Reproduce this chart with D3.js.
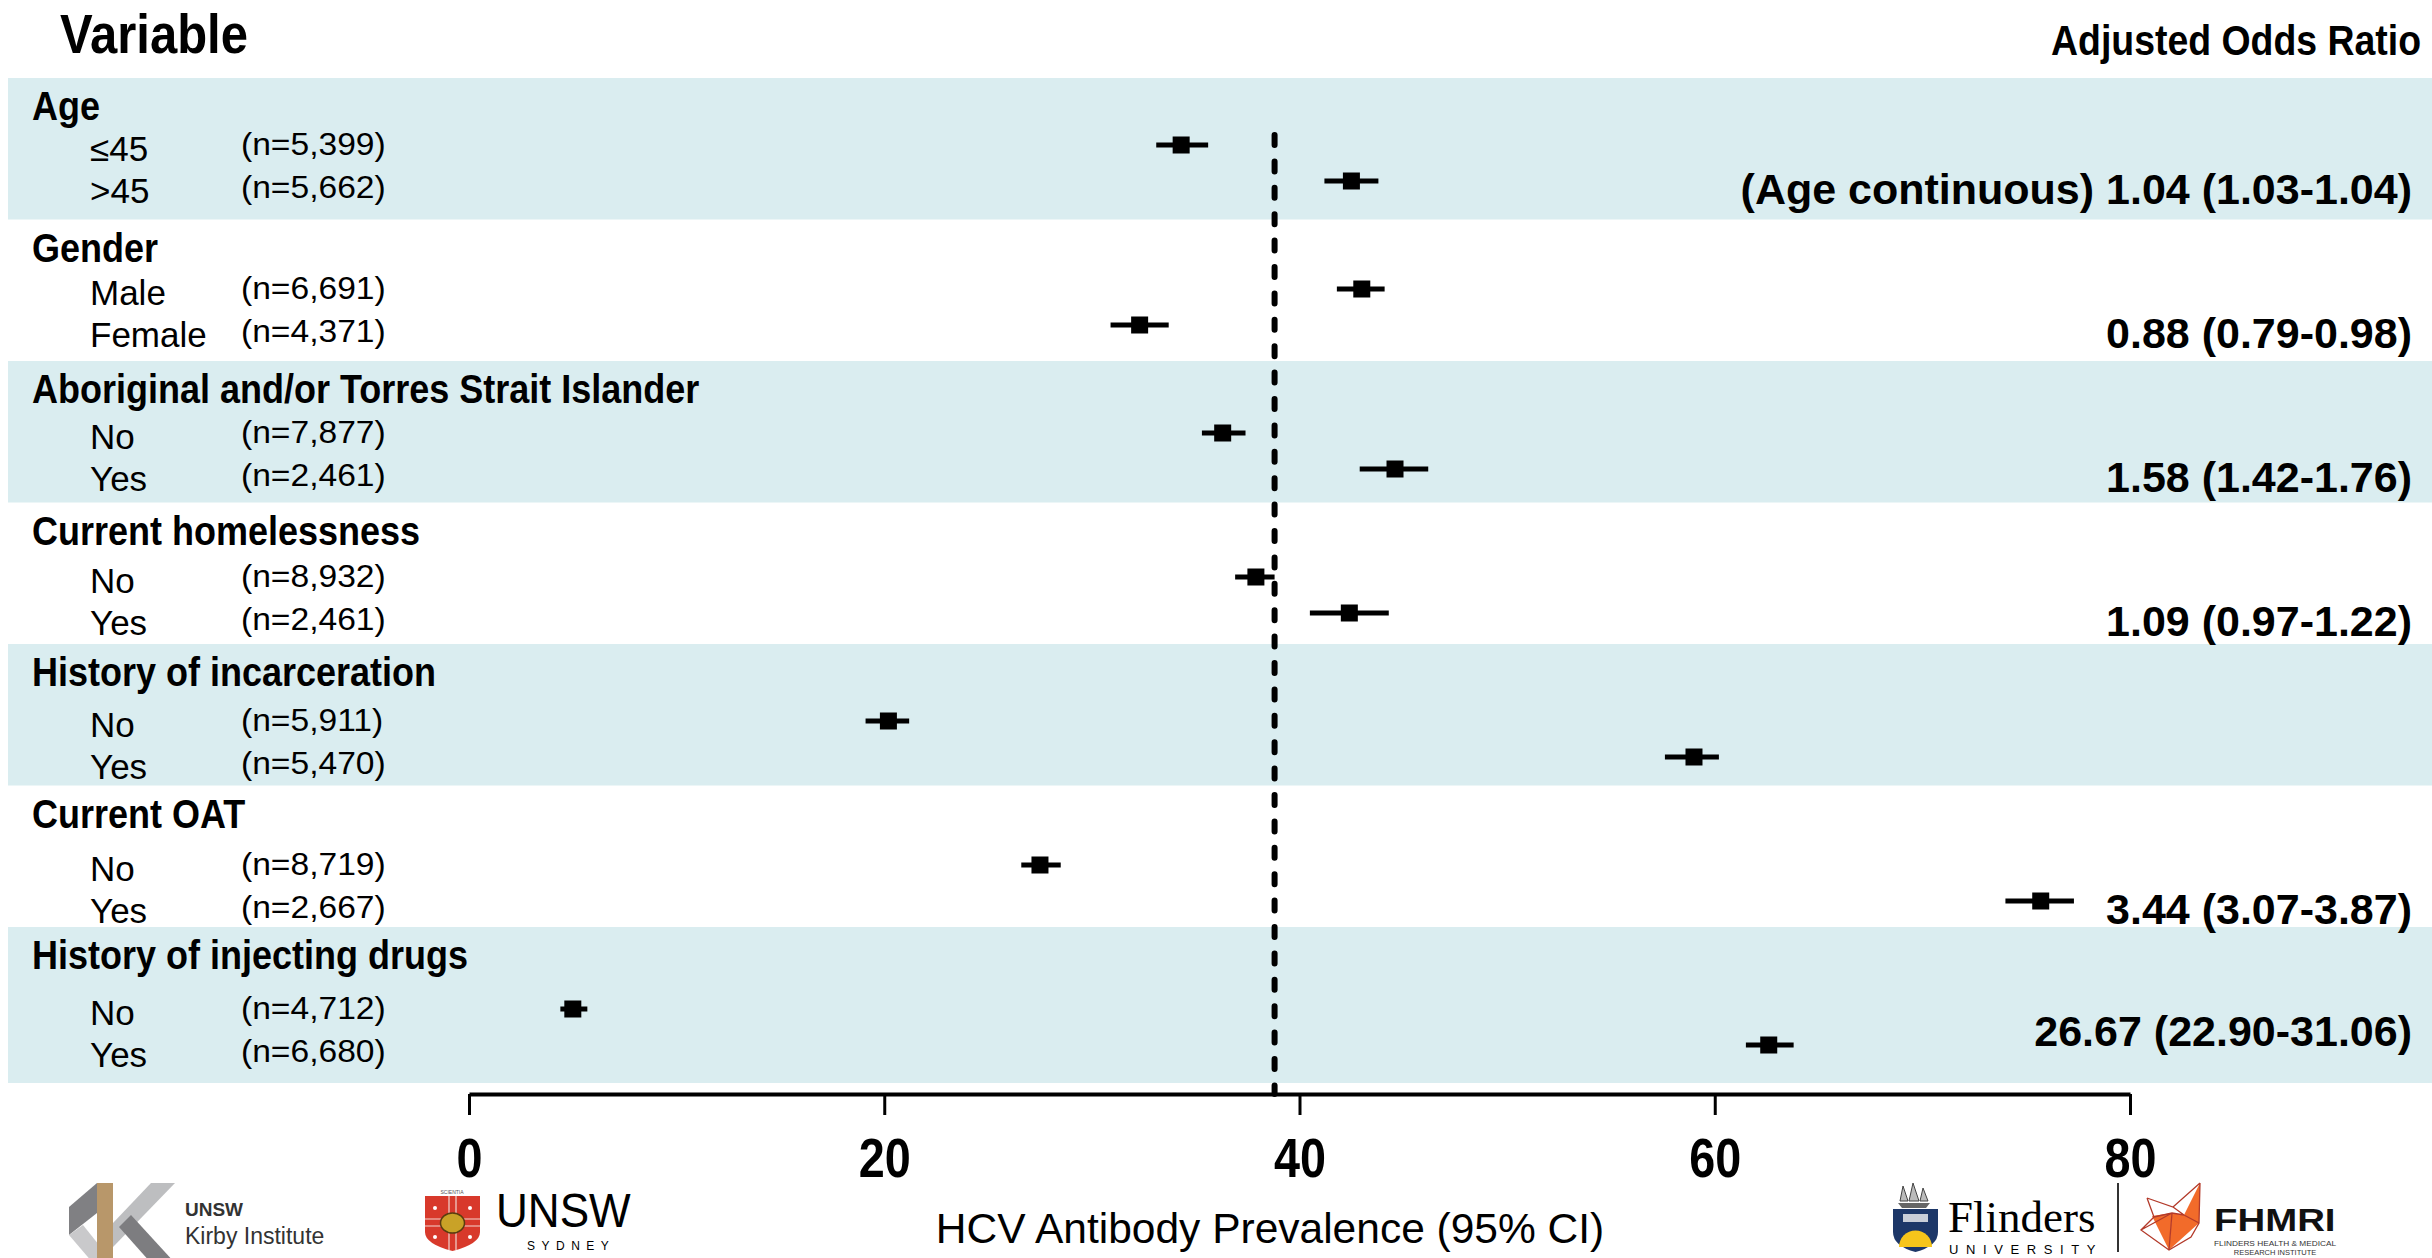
<!DOCTYPE html>
<html>
<head>
<meta charset="utf-8">
<title>HCV antibody prevalence by participant characteristics</title>
<script src="https://cdn.jsdelivr.net/npm/d3@7"></script>
<style>
  html, body { margin: 0; padding: 0; background: #fff; }
  svg { display: block; }
</style>
</head>
<body>
<svg id="chart" width="2432" height="1258"></svg>
<script>
// ---- data ---------------------------------------------------------------
const groups = [
  "Age",
  "Gender",
  "Aboriginal and/or Torres Strait Islander",
  "Current homelessness",
  "History of incarceration",
  "Current OAT",
  "History of injecting drugs"
];
const levels = [
  ["\u226445", ">45"],
  ["Male", "Female"],
  ["No", "Yes"],
  ["No", "Yes"],
  ["No", "Yes"],
  ["No", "Yes"],
  ["No", "Yes"]
];
const sampleSizes = [
  ["5,399", "5,662"],
  ["6,691", "4,371"],
  ["7,877", "2,461"],
  ["8,932", "2,461"],
  ["5,911", "5,470"],
  ["8,719", "2,667"],
  ["4,712", "6,680"]
];
// HCV antibody prevalence (%) with 95% CI
const prevalence = [
  [34.3, 42.5],
  [43.0, 32.3],
  [36.3, 44.6],
  [37.9, 42.4],
  [20.2, 59.0],
  [27.5, 75.7],
  [5.0, 62.6]
];
const ciLow = [
  [33.1, 41.2],
  [41.8, 30.9],
  [35.3, 42.9],
  [36.9, 40.5],
  [19.1, 57.6],
  [26.6, 74.0],
  [4.4, 61.5]
];
const ciHigh = [
  [35.6, 43.8],
  [44.1, 33.7],
  [37.4, 46.2],
  [38.8, 44.3],
  [21.2, 60.2],
  [28.5, 77.3],
  [5.7, 63.8]
];
const overallPrevalence = 38.8;
const adjustedOddsRatios = [
  "(Age continuous) 1.04 (1.03-1.04)",
  "0.88 (0.79-0.98)",
  "1.58 (1.42-1.76)",
  "1.09 (0.97-1.22)",
  "",
  "3.44 (3.07-3.87)",
  "26.67 (22.90-31.06)"
];
const xTicks = [0, 20, 40, 60, 80];
const xTitle = "HCV Antibody Prevalence (95% CI)";

// ---- setup --------------------------------------------------------------
const W = 2432, H = 1258;
const SANS = '"Liberation Sans", Arial, Helvetica, sans-serif';
const SERIF = '"Liberation Serif", "Times New Roman", serif';
const svg = d3.select("#chart");

const x = d3.scaleLinear().domain([0, 80]).range([469, 2130]);
const groupY = d3.scaleLinear().domain([0, groups.length - 1]).range([145, 1009]);
const ROW = 36;
const band = d3.scaleBand().domain(d3.range(groups.length)).range([78, 1068.5]);
const axisY = 1094;

// text helper: horizontal condensation via scaleX
function label(parent, str, tx, ty, o) {
  return parent.append("text")
    .attr("transform", `translate(${tx},${ty}) scale(${o.sx || 1},1)`)
    .attr("font-family", o.family || SANS)
    .attr("font-size", o.size)
    .attr("font-weight", o.weight || "normal")
    .attr("text-anchor", o.anchor || "start")
    .attr("fill", o.fill || "#000")
    .text(str);
}

const rows = groups.flatMap((g, gi) => levels[gi].map((lv, ri) => ({
  gi, ri, lv,
  n: sampleSizes[gi][ri],
  est: prevalence[gi][ri],
  lo: ciLow[gi][ri],
  hi: ciHigh[gi][ri]
})));

// ---- alternating group stripes -----------------------------------------
svg.append("g").selectAll("rect")
  .data(d3.range(groups.length).filter(i => i % 2 === 0))
  .join("rect")
  .attr("x", 8)
  .attr("width", W - 8)
  .attr("y", i => band(i))
  .attr("height", i => i === groups.length - 1 ? 1083 - band(i) : band.bandwidth())
  .attr("fill", "#daedf0");

// ---- headers -----------------------------------------------------------
label(svg, "Variable", 60, 53, { size: 56, weight: "bold", sx: 0.875 });
label(svg, "Adjusted Odds Ratio", 2421, 55, { size: 43, weight: "bold", sx: 0.87, anchor: "end" });

// ---- left-hand table ---------------------------------------------------
const tbl = svg.append("g");
groups.forEach((g, gi) => {
  label(tbl, g, 32, band(gi) + 42, { size: 40, weight: "bold", sx: 0.9 });
});
rows.forEach(r => {
  label(tbl, r.lv, 90, groupY(r.gi) + 16 + r.ri * 42, { size: 35 });
  label(tbl, `(n=${r.n})`, 241, groupY(r.gi) + 10 + r.ri * 43, { size: 32, sx: 1.05 });
});

// ---- overall prevalence reference line --------------------------------
svg.append("line")
  .attr("x1", x(overallPrevalence)).attr("x2", x(overallPrevalence))
  .attr("y1", 135).attr("y2", axisY)
  .attr("stroke", "#000").attr("stroke-width", 6)
  .attr("stroke-linecap", "round")
  .attr("stroke-dasharray", "10 16.4");

// ---- estimates with confidence intervals ------------------------------
const marks = svg.append("g");
marks.selectAll("line.ci").data(rows).join("line")
  .attr("class", "ci")
  .attr("x1", d => x(d.lo)).attr("x2", d => x(d.hi))
  .attr("y1", d => groupY(d.gi) + d.ri * ROW)
  .attr("y2", d => groupY(d.gi) + d.ri * ROW)
  .attr("stroke", "#000").attr("stroke-width", 5);
marks.selectAll("rect.pt").data(rows).join("rect")
  .attr("class", "pt")
  .attr("x", d => x(d.est) - 8.5)
  .attr("y", d => groupY(d.gi) + d.ri * ROW - 8.5)
  .attr("width", 17).attr("height", 17)
  .attr("fill", "#000");

// ---- adjusted odds ratios ---------------------------------------------
adjustedOddsRatios.forEach((t, gi) => {
  if (!t) return;
  const rowPos = gi === groups.length - 1 ? 0.4 : 1;
  label(svg, t, 2412, groupY(gi) + rowPos * ROW + 23, { size: 43, weight: "bold", anchor: "end" });
});

// ---- x axis ------------------------------------------------------------
const ax = svg.append("g")
  .attr("transform", `translate(0,${axisY})`)
  .call(d3.axisBottom(x).tickValues(xTicks).tickSize(21).tickSizeOuter(0).tickFormat(d3.format("d")));
ax.select(".domain").attr("stroke", "#000").attr("stroke-width", 4);
ax.selectAll(".tick line").attr("stroke", "#000").attr("stroke-width", 3);
ax.selectAll(".tick text")
  .attr("dy", null).attr("y", 83)
  .attr("transform", "scale(0.85,1)")
  .attr("font-family", SANS).attr("font-size", 55).attr("font-weight", "bold")
  .attr("fill", "#000");
label(svg, xTitle, 1270, 1243, { size: 42.5, anchor: "middle" });

// ---- institutional logos ----------------------------------------------
const logos = svg.append("g");

// Kirby Institute
const kirby = logos.append("g").attr("transform", "translate(69,1183)");
kirby.append("polygon").attr("points", "28,0 28,30 0,52 0,24").attr("fill", "#808083");
kirby.append("polygon").attr("points", "0,52 14,42 30,62 30,80 24,80").attr("fill", "#c9c9cb");
kirby.append("rect").attr("x", 28).attr("y", 0).attr("width", 16).attr("height", 80).attr("fill", "#b8976a");
kirby.append("polygon").attr("points", "82,0 106,0 44,64 44,40").attr("fill", "#bdbec0");
kirby.append("polygon").attr("points", "50,44 62,32 106,80 82,80").attr("fill", "#7d7d80");
label(logos, "UNSW", 185, 1216, { size: 19, weight: "bold", fill: "#333" });
label(logos, "Kirby Institute", 185, 1244, { size: 23, fill: "#333" });

// UNSW Sydney
const unsw = logos.append("g").attr("transform", "translate(425,1196)");
label(logos, "SCIENTIA", 452, 1193.5, { size: 5, anchor: "middle", fill: "#555" });
unsw.append("path").attr("d", "M0,0H55V36Q55,48 27.5,55Q0,48 0,36Z").attr("fill", "#d8392b");
unsw.append("path").attr("d", "M24,0V54M31,0V54M0,23H55M0,30H55")
  .attr("stroke", "#f1d6cf").attr("stroke-width", 1.2).attr("fill", "none");
unsw.append("ellipse").attr("cx", 27.5).attr("cy", 27).attr("rx", 12).attr("ry", 10)
  .attr("fill", "#c9a227").attr("stroke", "#5a3d10").attr("stroke-width", 1.5);
[[10, 12], [45, 12], [10, 41], [45, 41]].forEach(p =>
  unsw.append("circle").attr("cx", p[0]).attr("cy", p[1]).attr("r", 2).attr("fill", "#fff"));
label(logos, "UNSW", 496, 1227, { size: 49, sx: 0.9 });
logos.append("text").attr("x", 527).attr("y", 1250)
  .attr("font-family", SANS).attr("font-size", 12).attr("letter-spacing", 6.5)
  .text("SYDNEY");

// Flinders University
const fl = logos.append("g");
fl.append("path").attr("d", "M1898,1203 H1930 L1926,1208 H1902Z").attr("fill", "#666");
fl.append("path").attr("d", "M1900,1201 L1903,1186 L1908,1201Z M1909,1201 L1913,1183 L1919,1201Z M1920,1201 L1923,1188 L1928,1201Z")
  .attr("fill", "#bbb").attr("stroke", "#444").attr("stroke-width", 1);
fl.append("path").attr("d", "M1893,1209 H1938 V1232 Q1938,1246 1915.5,1252 Q1893,1246 1893,1232Z")
  .attr("fill", "#1d3768");
fl.append("rect").attr("x", 1903).attr("y", 1214).attr("width", 25).attr("height", 8).attr("fill", "#c9ced8");
fl.append("path").attr("d", "M1899,1247 A16.5,16.5 0 0 1 1932,1247 Z").attr("fill", "#f6c51b");
label(logos, "Flinders", 1948, 1232, { size: 45, family: SERIF });
logos.append("text").attr("x", 1949).attr("y", 1254)
  .attr("font-family", SANS).attr("font-size", 13).attr("letter-spacing", 7.6)
  .text("UNIVERSITY");
logos.append("line").attr("x1", 2118).attr("x2", 2118).attr("y1", 1183).attr("y2", 1252)
  .attr("stroke", "#333").attr("stroke-width", 2);

// FHMRI
const fox = logos.append("g");
fox.append("polygon").attr("points", "2152,1216 2172,1213 2169,1250").attr("fill", "#f26b2a");
fox.append("polygon").attr("points", "2172,1213 2184,1215 2200,1183 2199,1223 2169,1250").attr("fill", "#f26b2a");
fox.append("path")
  .attr("d", "M2147,1198 L2173,1207 L2200,1183 M2147,1198 L2154,1217 L2141,1230 L2169,1250 L2191,1237 L2199,1223 L2200,1183 M2173,1207 L2184,1215 L2199,1223 M2154,1217 L2172,1213 L2184,1215 M2172,1213 L2169,1250 M2141,1230 L2172,1213")
  .attr("fill", "none").attr("stroke", "#b33a2a").attr("stroke-width", 1.3);
label(logos, "FHMRI", 2214, 1231, { size: 32, weight: "bold", sx: 1.2, fill: "#111" });
logos.append("text").attr("x", 2214).attr("y", 1246)
  .attr("font-family", SANS).attr("font-size", 7.5).attr("textLength", 122).attr("lengthAdjust", "spacingAndGlyphs")
  .attr("fill", "#333").text("FLINDERS HEALTH & MEDICAL");
logos.append("text").attr("x", 2275).attr("y", 1255).attr("text-anchor", "middle")
  .attr("font-family", SANS).attr("font-size", 7.5).attr("fill", "#333").text("RESEARCH INSTITUTE");
</script>
</body>
</html>
